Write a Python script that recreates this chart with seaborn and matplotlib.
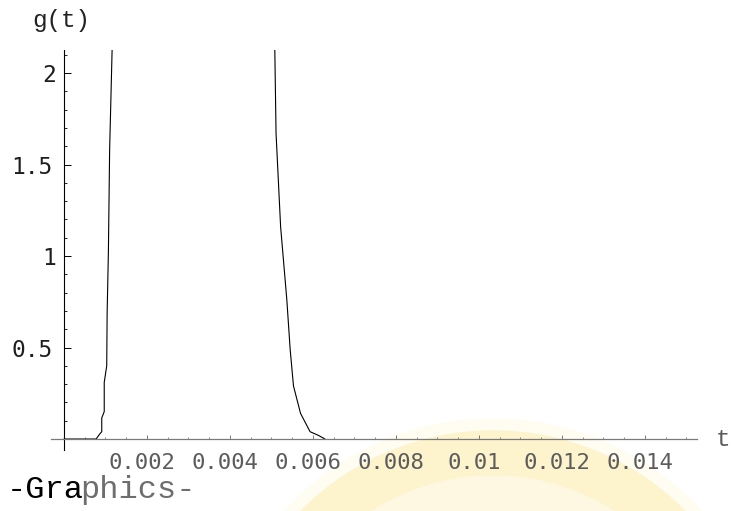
import matplotlib
matplotlib.use("Agg")
import matplotlib.pyplot as plt
import seaborn as sns
import pandas as pd
from matplotlib.patches import Circle, Wedge
from matplotlib.ticker import FixedLocator, MultipleLocator
from matplotlib.transforms import ScaledTranslation

# g(t) sampled along the pulse; values above the plot range are clipped by the axes
t_vals = [0.0, 0.00077, 0.00079, 0.00087, 0.00091, 0.00091, 0.00097, 0.00097,
          0.00103, 0.00104, 0.00107, 0.00110, 0.00116, 0.00118,
          0.00504, 0.00508, 0.00511, 0.00522, 0.00537, 0.00545, 0.00553,
          0.00570, 0.00593, 0.00613, 0.00629]
g_vals = [0.0, 0.0, 0.005, 0.03, 0.04, 0.115, 0.15, 0.31,
          0.40, 0.69, 1.02, 1.58, 2.13, 2.40,
          2.40, 2.13, 1.67, 1.16, 0.76, 0.49, 0.29,
          0.14, 0.04, 0.02, 0.0]

x_ticks = [0.002, 0.004, 0.006, 0.008, 0.010, 0.012, 0.014]
x_tick_labels = ["0.002", "0.004", "0.006", "0.008", "0.01", "0.012", "0.014"]
y_ticks = [0.5, 1.0, 1.5, 2.0]
y_tick_labels = ["0.5", "1", "1.5", "2"]

df = pd.DataFrame({"t": t_vals, "g": g_vals})

sns.set_style("white")
W, H = 734, 511
fig = plt.figure(figsize=(W / 100, H / 100), dpi=100)

# faint seal emblem behind the lower right of the figure
seal_c = (4.93, -1.90)
fig.patches.extend([
    Circle(seal_c, 2.82, transform=fig.dpi_scale_trans, color="#fffcf1", zorder=-3),
    Wedge(seal_c, 2.70, 0, 360, width=0.45, transform=fig.dpi_scale_trans,
          color="#fdf3cc", zorder=-2),
    Circle(seal_c, 2.25, transform=fig.dpi_scale_trans, color="#fef8e2", zorder=-2),
])

ax = fig.add_axes([50.7 / W, 61 / H, 646 / W, 400 / H])
ax.set_facecolor("none")

sns.lineplot(data=df, x="t", y="g", sort=False, estimator=None,
             color="black", linewidth=0.8, ax=ax)

ax.set_xlim(-0.00032, 0.015246)
ax.set_ylim(-0.06, 2.126)
ax.set_xlabel("")
ax.set_ylabel("")

for side in ("top", "right"):
    ax.spines[side].set_visible(False)
ax.spines["left"].set_position(("data", 0))
ax.spines["bottom"].set_position(("data", 0))
ax.spines["left"].set_color("black")
ax.spines["left"].set_linewidth(0.8)
ax.spines["bottom"].set_color("#7a7a7a")
ax.spines["bottom"].set_linewidth(0.9)

ax.xaxis.set_major_locator(FixedLocator(x_ticks))
ax.set_xticklabels(x_tick_labels)
ax.xaxis.set_minor_locator(MultipleLocator(0.0005))
ax.yaxis.set_major_locator(FixedLocator(y_ticks))
ax.set_yticklabels(y_tick_labels)
ax.yaxis.set_minor_locator(MultipleLocator(0.1))

mono = ["DejaVu Sans Mono"]
ax.tick_params(axis="x", which="major", direction="in", length=3.0, width=0.7,
               color="#7a7a7a", labelcolor="#5c5c5c", labelsize=16, pad=10.0,
               bottom=True)
ax.tick_params(axis="x", which="minor", direction="in", length=1.6, width=0.6,
               color="#7a7a7a", bottom=True)
ax.tick_params(axis="y", which="major", direction="in", length=4.8, width=0.7,
               color="black", labelcolor="#1e1e1e", labelsize=16.5, pad=8.4,
               left=True)
ax.tick_params(axis="y", which="minor", direction="in", length=2.5, width=0.6,
               color="black", left=True)

shift_x = ScaledTranslation(-0.05, 0, fig.dpi_scale_trans)
for lab in ax.get_xticklabels():
    lab.set_family(mono)
    lab.set_transform(lab.get_transform() + shift_x)
shift_int = ScaledTranslation(0.04, 0, fig.dpi_scale_trans)
for lab in ax.get_yticklabels():
    lab.set_family(mono)
    if "." not in lab.get_text():
        lab.set_transform(lab.get_transform() + shift_int)

courier = ["Liberation Mono", "DejaVu Sans Mono"]
fig.text(32 / W, 1 - 20.5 / H, "g(t)", family=courier, size=17.5,
         ha="left", va="center", color="#222222")
fig.text(716 / W, 1 - 440 / H, "t", family=courier, size=17.5,
         ha="left", va="center", color="#5c5c5c")
fig.text(7 / W, 1 - 498 / H, "-Gra", family=courier, size=23,
         ha="left", va="baseline", color="black")
fig.text((7 + 4 * 18.4) / W, 1 - 498 / H, "phics-", family=courier, size=23,
         ha="left", va="baseline", color="#6e6e6e")

fig.savefig("out.png", dpi=100)
